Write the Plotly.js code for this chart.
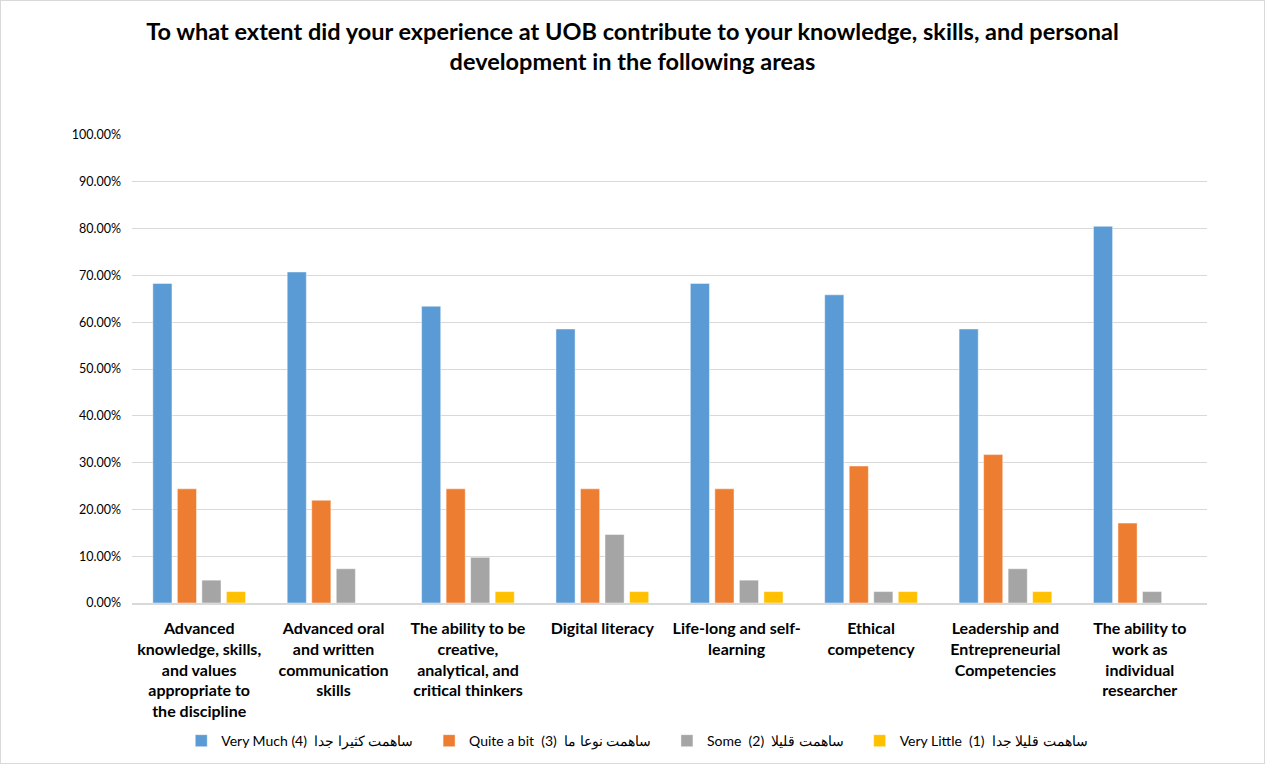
<!DOCTYPE html>
<html>
<head>
<meta charset="utf-8">
<script src="https://cdn.plot.ly/plotly-3.0.1.min.js"></script>
<style>
html,body{margin:0;padding:0;background:#fff;}
#chart{width:1263px;height:762px;border:1px solid #d9d9d9;box-sizing:content-box;}
</style>
</head>
<body>
<div id="chart"></div>
<script>
const categories = [
  "Advanced<br>knowledge, skills,<br>and values<br>appropriate to<br>the discipline",
  "Advanced oral<br>and written<br>communication<br>skills",
  "The ability to be<br>creative,<br>analytical, and<br>critical thinkers",
  "Digital literacy",
  "Life-long and self-<br>learning",
  "Ethical<br>competency",
  "Leadership and<br>Entrepreneurial<br>Competencies",
  "The ability to<br>work as<br>individual<br>researcher"
];
const seriesNames = [
  "Very Much (4)  ساهمت كثيرا جدا",
  "Quite a bit  (3)  ساهمت نوعا ما",
  "Some  (2)  ساهمت قليلا",
  "Very Little  (1)  ساهمت قليلا جدا"
];
const veryMuch   = [68.29, 70.73, 63.41, 58.54, 68.29, 65.85, 58.54, 80.49];
const quiteABit  = [24.39, 21.95, 24.39, 24.39, 24.39, 29.27, 31.71, 17.07];
const some       = [4.88, 7.32, 9.76, 14.63, 4.88, 2.44, 7.32, 2.44];
const veryLittle = [2.44, 0, 2.44, 2.44, 2.44, 2.44, 2.44, 0];
const yTicks = [0,10,20,30,40,50,60,70,80,90,100];
const yTickLabels = yTicks.map(v => v.toFixed(2) + "%");

const colors = ["#5B9BD5", "#ED7D31", "#A5A5A5", "#FFC000"];
const allValues = [veryMuch, quiteABit, some, veryLittle];
const pad = "\u00A0".repeat(3);

const traces = allValues.map((vals, i) => ({
  type: "bar",
  x: categories,
  y: vals,
  name: seriesNames[i] + (i < 3 ? pad : ""),
  marker: {color: colors[i], line: {color: "rgba(255,255,255,0.6)", width: 0.75}},
  hoverinfo: "y+name"
}));

const layout = {
  width: 1263,
  height: 762,
  paper_bgcolor: "#ffffff",
  plot_bgcolor: "#ffffff",
  margin: {l: 131, r: 57, t: 134, b: 160, autoexpand: false},
  font: {family: "Lato, 'Open Sans', sans-serif", color: "#000000"},
  title: {
    text: "<b>To what extent did your experience at UOB contribute to your knowledge, skills, and personal<br>development in the following areas</b>",
    font: {size: 23.5, family: "Lato, 'Open Sans', sans-serif", color: "#000"},
    x: 0.5, xanchor: "center",
    y: 0.949, yanchor: "top"
  },
  barmode: "group",
  bargap: 0.27,
  bargroupgap: 0.22,
  xaxis: {
    type: "category",
    tickfont: {size: 16, family: "Lato, sans-serif", color: "#000", weight: "bold"},
    showgrid: false,
    showline: true,
    linecolor: "#d9d9d9",
    linewidth: 1.5,
    ticks: "",
    ticklabelstandoff: 10,
    fixedrange: true
  },
  yaxis: {
    range: [0, 100],
    tickvals: yTicks,
    ticktext: yTickLabels,
    tickfont: {size: 12.5, family: "Lato, sans-serif", color: "#000"},
    showgrid: true,
    gridcolor: "#d9d9d9",
    gridwidth: 1,
    zeroline: false,
    showline: false,
    ticks: "",
    ticklabelstandoff: 10,
    fixedrange: true
  },
  showlegend: true,
  legend: {
    orientation: "h",
    x: 0.47, xanchor: "center",
    y: -0.295, yanchor: "middle",
    font: {size: 14, family: "Lato, sans-serif", color: "#000"},
    itemwidth: 30,
    traceorder: "normal"
  }
};

Plotly.newPlot("chart", traces, layout, {displayModeBar: false});
</script>
</body>
</html>
